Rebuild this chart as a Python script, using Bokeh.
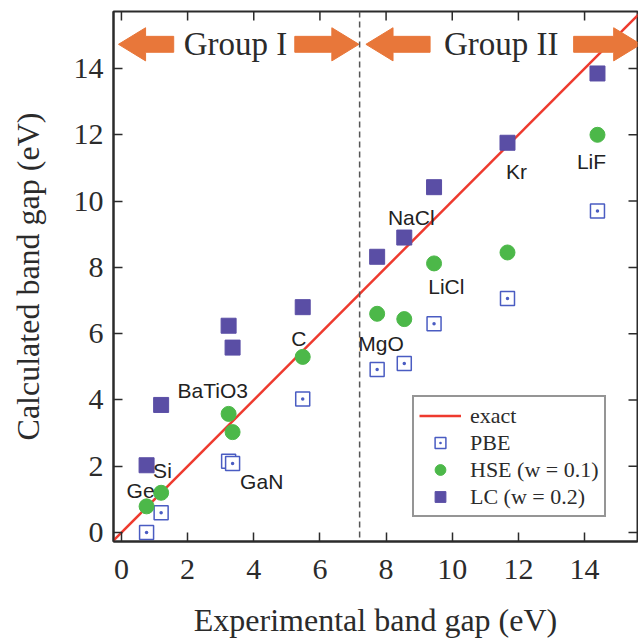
from bokeh.plotting import figure
from bokeh.models import (Range1d, Span, Legend, LegendItem,
                          FixedTicker, ColumnDataSource)
from bokeh.core.properties import value
from bokeh.embed import file_html
from bokeh.resources import INLINE

# ---------------- data ----------------
materials = ["Ge", "Si", "BaTiO3", "GaN", "C", "MgO", "NaCl", "LiCl", "Kr", "LiF"]
exp_gap = [0.76, 1.20, 3.24, 3.36, 5.48, 7.73, 8.55, 9.45, 11.67, 14.39]
pbe_gap = [0.00, 0.60, 2.15, 2.08, 4.03, 4.92, 5.10, 6.30, 7.06, 9.70]
hse_gap = [0.79, 1.20, 3.58, 3.03, 5.30, 6.60, 6.44, 8.12, 8.45, 12.00]
lc_gap = [2.03, 3.85, 6.24, 5.58, 6.80, 8.32, 8.90, 10.42, 11.76, 13.85]

# label anchor positions (centre of each text), in data units
label_x = [0.58, 1.24, 2.76, 4.24, 5.36, 7.85, 8.76, 9.82, 11.94, 14.21]
label_y = [1.27, 1.88, 4.30, 1.55, 5.85, 5.70, 9.52, 7.42, 10.88, 11.18]

ticks = [0, 2, 4, 6, 8, 10, 12, 14]
group_names = ["Group I", "Group II"]
group_centres = [3.45, 11.48]
group_boundary = 7.2
# arrows: (tail, tip) x-positions
arrow_spans = [(1.58, -0.09), (5.24, 7.18), (9.33, 7.39), (13.67, 15.70)]
arrow_y = 14.73

X_LO, X_HI = -0.24, 15.60
Y_LO, Y_HI = -0.27, 15.72

SERIF = "Liberation Serif"
SANS = "Liberation Sans"
DARK = "#2b2b2b"

p = figure(width=638, height=641, output_backend="svg", toolbar_location=None,
           x_range=Range1d(X_LO, X_HI), y_range=Range1d(Y_LO, Y_HI),
           min_border_left=113, min_border_right=1, min_border_top=11,
           min_border_bottom=100)
p.grid.visible = False
p.background_fill_color = "white"
p.border_fill_color = "white"
p.outline_line_color = DARK
p.outline_line_width = 2

for ax in [p.xaxis[0], p.yaxis[0]]:
    ax.ticker = FixedTicker(ticks=ticks)
    ax.major_tick_in = 9
    ax.major_tick_out = 0
    ax.minor_tick_line_color = None
    ax.axis_line_color = DARK
    ax.axis_line_width = 2
    ax.major_tick_line_color = DARK
    ax.major_tick_line_width = 1.5
    ax.major_label_text_font = SERIF
    ax.major_label_text_font_size = "30px"
    ax.major_label_text_color = DARK
    ax.axis_label_text_font = SERIF
    ax.axis_label_text_font_size = "32px"
    ax.axis_label_text_font_style = "normal"
    ax.axis_label_text_color = DARK

p.xaxis[0].axis_label = "Experimental band gap (eV)"
p.yaxis[0].axis_label = "Calculated band gap (eV)"
p.xaxis[0].major_label_standoff = 18
p.xaxis[0].axis_label_standoff = 20
p.yaxis[0].major_label_standoff = 10
p.yaxis[0].axis_label_standoff = 25

# inward ticks on the top and right edges of the frame
tick_dx = 9 / 33.07
tick_dy = 9 / 33.14
p.segment(x0=ticks, y0=[Y_HI] * len(ticks), x1=ticks, y1=[Y_HI - tick_dy] * len(ticks),
          line_color=DARK, line_width=1.5)
p.segment(x0=[X_HI] * len(ticks), y0=ticks, x1=[X_HI - tick_dx] * len(ticks), y1=ticks,
          line_color=DARK, line_width=1.5)

# group divider
p.add_layout(Span(location=group_boundary, dimension="height", line_color="#555555",
                  line_width=1.5, line_dash="6 4"))

# exact line
exact = p.line([X_LO - 1, X_HI + 1], [X_LO - 1, X_HI + 1], line_color="#ee3a2e", line_width=2.5)

src = ColumnDataSource(dict(x=exp_gap, pbe=pbe_gap, hse=hse_gap, lc=lc_gap))
r_pbe = p.scatter("x", "pbe", source=src, marker="square_dot", size=14,
                  fill_color="white", line_color="#4a5cc2", line_width=1.5)
r_hse = p.scatter("x", "hse", source=src, marker="circle", size=15,
                  fill_color="#4cb849", line_color="#4cb849")
r_lc = p.scatter("x", "lc", source=src, marker="square", size=15,
                 fill_color="#5a4ea5", line_color="#5a4ea5")

# material labels
p.text(x=label_x, y=label_y, text=materials, text_font=value(SANS),
       text_font_size="21px", text_color="#222222", text_align="center",
       text_baseline="middle")

# group arrows
head_len, head_half, shaft_half = 0.82, 0.50, 0.24
xs, ys = [], []
for tail, tip in arrow_spans:
    d = 1 if tip > tail else -1
    base = tip - d * head_len
    xs.append([tail, base, base, tip, base, base, tail])
    ys.append([arrow_y - shaft_half, arrow_y - shaft_half, arrow_y - head_half, arrow_y,
               arrow_y + head_half, arrow_y + shaft_half, arrow_y + shaft_half])
p.patches(xs, ys, fill_color="#e8773a", line_color="#e8773a")
p.text(x=group_centres, y=[arrow_y] * 2, text=group_names, text_font=value(SERIF),
       text_font_size="33px", text_color=DARK, text_align="center", text_baseline="middle")

legend = Legend(items=[LegendItem(label="exact", renderers=[exact]),
                       LegendItem(label="PBE", renderers=[r_pbe]),
                       LegendItem(label="HSE (w = 0.1)", renderers=[r_hse]),
                       LegendItem(label="LC (w = 0.2)", renderers=[r_lc])],
                location=(299, 24), label_text_font=SERIF, label_text_font_size="22px",
                label_text_color=DARK, glyph_width=42, glyph_height=27, label_height=20,
                label_standoff=9, spacing=0, padding=5, margin=0,
                border_line_color=DARK, border_line_width=2, background_fill_alpha=1)
p.add_layout(legend, "center")

open("out.html", "w").write(file_html(p, INLINE))
